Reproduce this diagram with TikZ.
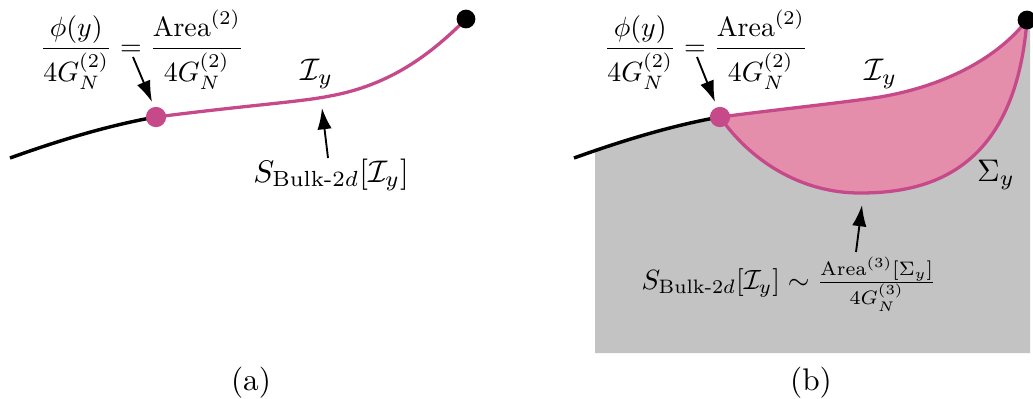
\documentclass[tikz,border=0pt]{standalone}
\usepackage{amsmath}
\usetikzlibrary{arrows.meta}
\definecolor{pinkline}{RGB}{198,74,138}
\definecolor{pinkfill}{RGB}{229,142,172}
\definecolor{bggray}{RGB}{195,195,195}
\begin{document}
\begin{tikzpicture}[x=0.32pt,y=-0.32pt,
  blackline/.style={line width=1.1pt,black},
  pinkcurve/.style={line width=1.05pt,pinkline},
  pinkdot/.style={circle,fill=pinkline,inner sep=0pt,minimum size=6.5pt},
  blackdot/.style={circle,fill=black,inner sep=0pt,minimum size=6pt},
  pointer/.style={line width=0.6pt,-{Latex[length=6.8pt,width=4.6pt]}},
  lbl/.style={inner sep=0pt},
  smalllbl/.style={inner sep=0pt,scale=0.89}]
\useasboundingbox (0,0) rectangle (1033,398);
% ---------- panel (a) ----------
\draw[blackline] (10,158) .. controls (60,140) and (110,125) .. (156,117);
\draw[pinkcurve] (156,117) .. controls (250,105) and (300,102) .. (330,96) .. controls (390,85) and (430,55) .. (466,19);
\node[pinkdot] (pa) at (156,117) {};
\node[blackdot] (ba) at (466,19) {};
\node[smalllbl] (fa) at (142,50) {$\dfrac{\phi(y)}{4G_N^{(2)}}=\dfrac{\mathrm{Area}^{(2)}}{4G_N^{(2)}}$};
\node[lbl] (Ia) at (317,74) {$\mathcal{I}_y$};
\node[lbl] (Sa) at (331,175) {$S_{\text{Bulk-2}d}[\mathcal{I}_y]$};
\node[lbl] (capa) at (251,383) {(a)};
\coordinate (fatail) at (133,57);
\coordinate (fatip) at (152,102);
\coordinate (satail) at (328,158);
\coordinate (satip) at (322,108);
\draw[pointer] (fatail) -- (fatip);
\draw[pointer] (satail) -- (satip);
% ---------- panel (b) ----------
\begin{scope}
\clip (595,0) rectangle (1030,353);
\fill[bggray] (574,158) .. controls (624,140) and (674,125) .. (720,117)
  .. controls (790,108) and (840,103) .. (880,97) .. controls (950,85) and (1000,55) .. (1027,20)
  -- (1040,20) -- (1040,353) -- (574,353) -- cycle;
\end{scope}
\fill[pinkfill] (720,117) .. controls (790,108) and (840,103) .. (880,97) .. controls (950,85) and (1000,55) .. (1027,20)
  .. controls (1015,170) and (930,193) .. (860,193) .. controls (800,193) and (750,160) .. (720,117) -- cycle;
\draw[blackline] (574,158) .. controls (624,140) and (674,125) .. (720,117);
\draw[pinkcurve] (720,117) .. controls (790,108) and (840,103) .. (880,97) .. controls (950,85) and (1000,55) .. (1027,20);
\draw[pinkcurve] (720,117) .. controls (750,160) and (800,193) .. (860,193) .. controls (930,193) and (1015,170) .. (1027,20);
\node[pinkdot] (pb) at (720,117) {};
\node[blackdot] (bb) at (1027,20) {};
\node[smalllbl] (fb) at (706,50) {$\dfrac{\phi(y)}{4G_N^{(2)}}=\dfrac{\mathrm{Area}^{(2)}}{4G_N^{(2)}}$};
\node[lbl] (Ib) at (881,74) {$\mathcal{I}_y$};
\node[lbl] (Sig) at (996,175) {$\Sigma_y$};
\node[smalllbl] (Sb) at (789,284) {$S_{\text{Bulk-2}d}[\mathcal{I}_y]\sim\frac{\mathrm{Area}^{(3)}[\Sigma_y]}{4G_N^{(3)}}$};
\node[lbl] (capb) at (811,383) {(b)};
\coordinate (fbtail) at (697,57);
\coordinate (fbtip) at (715,102);
\coordinate (sbtail) at (856,252);
\coordinate (sbtip) at (862,205);
\draw[pointer] (fbtail) -- (fbtip);
\draw[pointer] (sbtail) -- (sbtip);
\end{tikzpicture}
\end{document}
